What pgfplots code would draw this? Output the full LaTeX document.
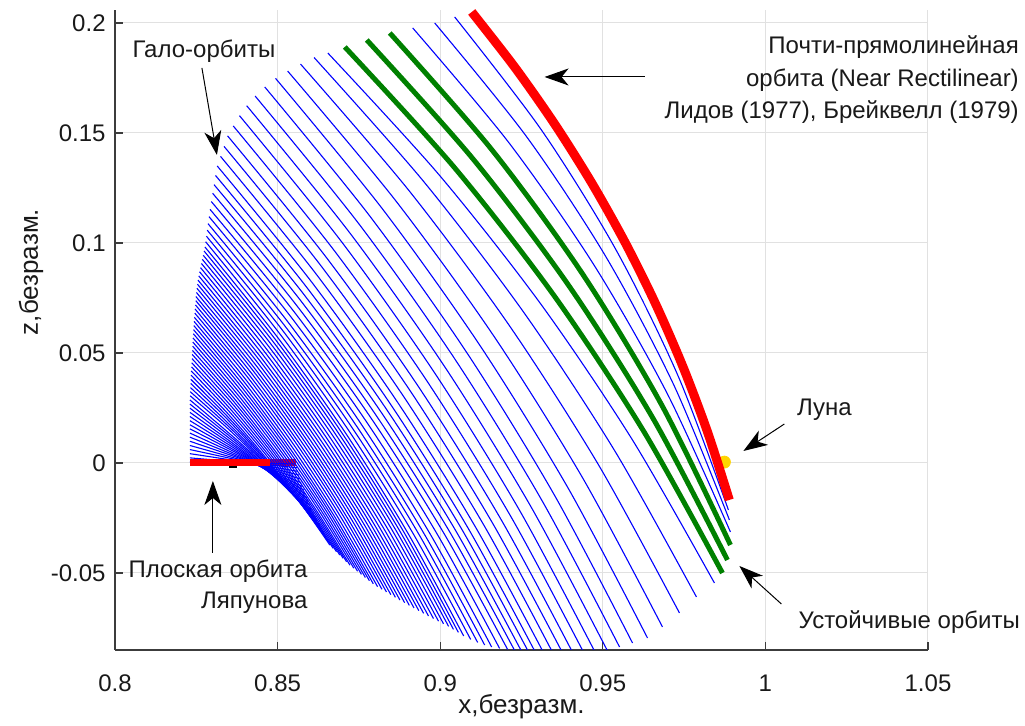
\documentclass[border=0pt]{standalone}
\usepackage{pgfplots}
\pgfplotsset{compat=1.18}
\usepackage{fontspec}
\setmainfont{Liberation Sans}
\usetikzlibrary{arrows.meta}
\definecolor{mblue}{RGB}{0,0,255}
\definecolor{mgreen}{RGB}{0,128,0}
\definecolor{mred}{RGB}{255,0,0}
\definecolor{moon}{RGB}{255,212,0}
\definecolor{gridc}{RGB}{225,225,225}
\definecolor{spinec}{RGB}{60,60,60}
\definecolor{txtc}{RGB}{25,25,25}
\tikzset{arr/.style={draw=black, line width=0.5pt, -{Stealth[length=12pt,width=8.5pt,inset=3.5pt]}}}
\pgfplotsset{bl/.style={mblue, line width=0.55pt, smooth, mark=none}}
\begin{document}
\begin{tikzpicture}
\begin{axis}[
  scale only axis, width=406.5pt, height=320pt,
  xmin=0.8, xmax=1.05, ymin=-0.085, ymax=0.2059,
  axis x line*=bottom, axis y line*=left,
  axis line style={draw=spinec, line width=0.6pt},
  xtick={0.8,0.85,0.9,0.95,1,1.05},
  xticklabels={0.8,0.85,0.9,0.95,1,1.05},
  ytick={-0.05,0,0.05,0.1,0.15,0.2},
  yticklabels={-0.05,0,0.05,0.1,0.15,0.2},
  scaled ticks=false,
  tick align=inside,
  major tick length=4pt,
  tick style={draw=spinec, line width=0.6pt},
  grid=major,
  major grid style={draw=gridc, line width=0.5pt},
  xticklabel style={anchor=base, yshift=-21pt, font=\fontsize{12}{14}\selectfont, text=txtc},
  yticklabel style={anchor=east, inner sep=0pt, xshift=-4.5pt, font=\fontsize{12}{14}\selectfont, text=txtc},
  clip mode=individual,
]
\coordinate (sw) at (rel axis cs:0,0);
% Lyapunov planar orbit (under the blue family)
\addplot[mred, line width=3.5pt, mark=none] coordinates {(0.8230,0) (0.8556,0)};
% halo family
\addplot[bl] coordinates {(0.82304,0.00045) (0.83932,0) (0.85561,-0.00045)};
\addplot[bl] coordinates {(0.82304,0.00232) (0.83948,0.00023) (0.85591,-0.00214)};
\addplot[bl] coordinates {(0.82304,0.00423) (0.83966,0.00045) (0.85625,-0.00382)};
\addplot[bl] coordinates {(0.82304,0.00609) (0.83988,0.00064) (0.85659,-0.0055)};
\addplot[bl] coordinates {(0.82304,0.00795) (0.84006,0.00082) (0.8569,-0.00723)};
\addplot[bl] coordinates {(0.82304,0.00986) (0.84028,0.00105) (0.85724,-0.00895)};
\addplot[bl] coordinates {(0.82304,0.01173) (0.84054,0.00118) (0.85763,-0.01068)};
\addplot[bl] coordinates {(0.82304,0.01359) (0.84083,0.00136) (0.8581,-0.01236)};
\addplot[bl] coordinates {(0.82304,0.0155) (0.84114,0.00155) (0.85856,-0.01409)};
\addplot[bl] coordinates {(0.82304,0.01736) (0.84141,0.00168) (0.85902,-0.01586)};
\addplot[bl] coordinates {(0.82304,0.01923) (0.84175,0.00182) (0.85951,-0.01759)};
\addplot[bl] coordinates {(0.82304,0.02114) (0.84206,0.00195) (0.86,-0.01936)};
\addplot[bl] coordinates {(0.82304,0.023) (0.84237,0.00205) (0.86046,-0.02118)};
\addplot[bl] coordinates {(0.82304,0.02491) (0.84273,0.00223) (0.86104,-0.02291)};
\addplot[bl] coordinates {(0.82304,0.02677) (0.84313,0.00236) (0.86166,-0.02464)};
\addplot[bl] coordinates {(0.82304,0.02864) (0.8435,0.00245) (0.86227,-0.02641)};
\addplot[bl] coordinates {(0.8231,0.03055) (0.83375,0.01693) (0.84393,0.00259) (0.85364,-0.01245) (0.86289,-0.02818)};
\addplot[bl] coordinates {(0.82313,0.03241) (0.834,0.01791) (0.84436,0.00268) (0.8542,-0.01328) (0.86353,-0.02995)};
\addplot[bl] coordinates {(0.8232,0.03427) (0.83425,0.01887) (0.84476,0.00273) (0.85473,-0.01415) (0.86415,-0.03177)};
\addplot[bl] coordinates {(0.82326,0.03618) (0.83453,0.01988) (0.84522,0.00282) (0.85531,-0.015) (0.86479,-0.03359)};
\addplot[bl] coordinates {(0.82329,0.03805) (0.83477,0.02085) (0.84562,0.00286) (0.85584,-0.01591) (0.86544,-0.03545)};
\addplot[bl] coordinates {(0.82338,0.03991) (0.83507,0.02182) (0.84608,0.00291) (0.85642,-0.01681) (0.86608,-0.03732)};
\addplot[bl] coordinates {(0.82344,0.04182) (0.83543,0.02292) (0.8467,0.00318) (0.85726,-0.0174) (0.8671,-0.03882)};
\addplot[bl] coordinates {(0.82353,0.04368) (0.83579,0.02398) (0.84731,0.00341) (0.85808,-0.01802) (0.86811,-0.04032)};
\addplot[bl] coordinates {(0.82359,0.04555) (0.83615,0.02507) (0.84793,0.00368) (0.85892,-0.01861) (0.86912,-0.04182)};
\addplot[bl] coordinates {(0.82366,0.04745) (0.83653,0.02615) (0.84857,0.00391) (0.85978,-0.01926) (0.87017,-0.04336)};
\addplot[bl] coordinates {(0.82375,0.04932) (0.83692,0.02718) (0.84922,0.00409) (0.86065,-0.01994) (0.87121,-0.04491)};
\addplot[bl] coordinates {(0.82381,0.05118) (0.83727,0.02824) (0.84983,0.00432) (0.86149,-0.02058) (0.87226,-0.04645)};
\addplot[bl] coordinates {(0.82387,0.05309) (0.83768,0.02937) (0.85054,0.00464) (0.86245,-0.02109) (0.87343,-0.04782)};
\addplot[bl] coordinates {(0.82393,0.05495) (0.83806,0.03047) (0.85121,0.00495) (0.86339,-0.02162) (0.87459,-0.04923)};
\addplot[bl] coordinates {(0.82399,0.05682) (0.83847,0.03156) (0.85192,0.00523) (0.86436,-0.02217) (0.87579,-0.05064)};
\addplot[bl] coordinates {(0.82409,0.05873) (0.83888,0.03269) (0.85263,0.00555) (0.86534,-0.0227) (0.87699,-0.05205)};
\addplot[bl] coordinates {(0.82415,0.06059) (0.8393,0.03378) (0.85336,0.00582) (0.86633,-0.02328) (0.87822,-0.0535)};
\addplot[bl] coordinates {(0.82424,0.06245) (0.83971,0.03486) (0.85407,0.00609) (0.86731,-0.02384) (0.87942,-0.05491)};
\addplot[bl] coordinates {(0.8243,0.06436) (0.84015,0.03601) (0.85484,0.00645) (0.86837,-0.0243) (0.88074,-0.05623)};
\addplot[bl] coordinates {(0.82439,0.06623) (0.84061,0.03715) (0.85564,0.00686) (0.86947,-0.02466) (0.88209,-0.05741)};
\addplot[bl] coordinates {(0.82452,0.06814) (0.84111,0.03834) (0.85647,0.00727) (0.87059,-0.02506) (0.88347,-0.05864)};
\addplot[bl] coordinates {(0.82461,0.07) (0.84155,0.03947) (0.85724,0.00764) (0.87166,-0.02547) (0.88482,-0.05986)};
\addplot[bl] coordinates {(0.82473,0.07186) (0.84207,0.04059) (0.8581,0.008) (0.87282,-0.02589) (0.88624,-0.06109)};
\addplot[bl] coordinates {(0.82485,0.07377) (0.84256,0.04176) (0.85893,0.00841) (0.87395,-0.02628) (0.88762,-0.06232)};
\addplot[bl] coordinates {(0.82488,0.07564) (0.84298,0.04292) (0.85972,0.00882) (0.87508,-0.02665) (0.88906,-0.0635)};
\addplot[bl] coordinates {(0.82504,0.0775) (0.84351,0.04408) (0.86058,0.00923) (0.87624,-0.02704) (0.89051,-0.06473)};
\addplot[bl] coordinates {(0.82519,0.07941) (0.84404,0.04524) (0.86144,0.00964) (0.87741,-0.02741) (0.89195,-0.06591)};
\addplot[bl] coordinates {(0.82535,0.08127) (0.84458,0.04641) (0.86234,0.01005) (0.87862,-0.0278) (0.89343,-0.06714)};
\addplot[bl] coordinates {(0.8255,0.08314) (0.84512,0.04753) (0.86323,0.01041) (0.87983,-0.02822) (0.8949,-0.06836)};
\addplot[bl] coordinates {(0.82574,0.08505) (0.84573,0.04871) (0.86418,0.01082) (0.88107,-0.0286) (0.8964,-0.06955)};
\addplot[bl] coordinates {(0.82599,0.08691) (0.84635,0.04986) (0.86513,0.01123) (0.88232,-0.02897) (0.89794,-0.07073)};
\addplot[bl] coordinates {(0.8263,0.08877) (0.84701,0.051) (0.86611,0.01164) (0.8836,-0.02933) (0.89948,-0.07191)};
\addplot[bl] coordinates {(0.82657,0.09068) (0.84766,0.05221) (0.8671,0.01209) (0.88489,-0.02967) (0.90101,-0.07309)};
\addplot[bl] coordinates {(0.82685,0.09255) (0.84831,0.05337) (0.86808,0.0125) (0.88617,-0.03005) (0.90258,-0.07427)};
\addplot[bl] coordinates {(0.82713,0.09441) (0.84896,0.05448) (0.86906,0.01282) (0.88743,-0.03055) (0.90408,-0.07564)};
\addplot[bl] coordinates {(0.8274,0.09632) (0.84959,0.0556) (0.87002,0.01314) (0.88869,-0.03106) (0.90559,-0.077)};
\addplot[bl] coordinates {(0.82765,0.09818) (0.85024,0.05664) (0.87103,0.01332) (0.89002,-0.03178) (0.90722,-0.07864)};
\addplot[bl] coordinates {(0.82786,0.10055) (0.851,0.05808) (0.8723,0.0138) (0.89176,-0.0323) (0.90937,-0.08023)};
\addplot[bl] coordinates {(0.82811,0.10309) (0.85181,0.05973) (0.87361,0.0145) (0.89352,-0.0326) (0.91152,-0.08159)};
\addplot[bl] coordinates {(0.82836,0.10582) (0.8526,0.06158) (0.8749,0.01541) (0.89526,-0.03269) (0.91367,-0.08273)};
\addplot[bl] coordinates {(0.8286,0.10877) (0.85341,0.06365) (0.87622,0.01655) (0.89702,-0.03255) (0.91582,-0.08364)};
\addplot[bl] coordinates {(0.82891,0.11195) (0.85433,0.06596) (0.8777,0.01791) (0.89902,-0.03219) (0.91828,-0.08432)};
\addplot[bl] coordinates {(0.82922,0.11527) (0.85524,0.06841) (0.87917,0.01945) (0.901,-0.03161) (0.92074,-0.08477)};
\addplot[bl] coordinates {(0.82962,0.11882) (0.85616,0.07103) (0.88055,0.02109) (0.9028,-0.031) (0.92289,-0.08523)};
\addplot[bl] coordinates {(0.83002,0.12259) (0.85708,0.07383) (0.88194,0.02286) (0.90459,-0.03031) (0.92504,-0.08568)};
\addplot[bl] coordinates {(0.83045,0.1265) (0.85811,0.07656) (0.8835,0.02436) (0.90663,-0.0301) (0.9275,-0.08682)};
\addplot[bl] coordinates {(0.83091,0.13068) (0.85915,0.07946) (0.88507,0.02595) (0.90867,-0.02985) (0.92995,-0.08795)};
\addplot[bl] coordinates {(0.83143,0.135) (0.86031,0.08256) (0.88682,0.02777) (0.91095,-0.02937) (0.93272,-0.08886)};
\addplot[bl] coordinates {(0.83244,0.13936) (0.86192,0.08575) (0.88897,0.02973) (0.9136,-0.0287) (0.93579,-0.08955)};
\addplot[bl] coordinates {(0.83352,0.14391) (0.86358,0.08916) (0.89115,0.03195) (0.91624,-0.0277) (0.93886,-0.08977)};
\addplot[bl] coordinates {(0.83462,0.14868) (0.86526,0.09289) (0.89336,0.03459) (0.91892,-0.02622) (0.94194,-0.08955)};
\addplot[bl] coordinates {(0.83637,0.15318) (0.86742,0.09654) (0.89588,0.03736) (0.92174,-0.02437) (0.94501,-0.08864)};
\addplot[bl] coordinates {(0.83828,0.15786) (0.86971,0.10048) (0.89849,0.0405) (0.92462,-0.02208) (0.94808,-0.08727)};
\addplot[bl] coordinates {(0.84049,0.16241) (0.87229,0.10441) (0.90138,0.04377) (0.92777,-0.01952) (0.95146,-0.08545)};
\addplot[bl] coordinates {(0.8431,0.16677) (0.87525,0.1082) (0.90464,0.04695) (0.93127,-0.017) (0.95515,-0.08364)};
\addplot[bl] coordinates {(0.84605,0.17091) (0.87855,0.11185) (0.90823,0.05005) (0.93509,-0.01451) (0.95914,-0.08182)};
\addplot[bl] coordinates {(0.84937,0.17482) (0.88226,0.11545) (0.91229,0.05327) (0.93946,-0.01173) (0.96375,-0.07955)};
\addplot[bl] coordinates {(0.85309,0.17814) (0.88626,0.11932) (0.91653,0.05759) (0.9439,-0.00703) (0.96836,-0.07455)};
\addplot[bl] coordinates {(0.85705,0.18132) (0.89059,0.12346) (0.9212,0.06259) (0.94886,-0.00129) (0.97358,-0.06818)};
\addplot[bl] coordinates {(0.86123,0.18427) (0.89508,0.12765) (0.92596,0.06791) (0.95387,0.00505) (0.9788,-0.06091)};
\addplot[bl] coordinates {(0.86544,0.18636) (0.89966,0.13097) (0.93088,0.07236) (0.9591,0.01052) (0.98433,-0.05455)};
\addplot[bl] coordinates {(0.89155,0.19773) (0.92123,0.14537) (0.9474,0.08973) (0.97007,0.03082) (0.98925,-0.03136)};
\addplot[bl] coordinates {(0.89831,0.2) (0.92652,0.1484) (0.95103,0.09355) (0.97184,0.03544) (0.98894,-0.02591)};
\addplot[bl] coordinates {(0.90445,0.20273) (0.93114,0.15134) (0.95407,0.09686) (0.97323,0.0393) (0.98863,-0.02136)};
% Moon
\addplot[only marks, mark=*, mark size=3pt, draw=moon, fill=moon] coordinates {(0.9874,0.0004)};
% stable orbits
\addplot[mgreen, line width=2.5pt, smooth, mark=none] coordinates {(0.87066,0.18909) (0.90437,0.13429) (0.93496,0.07618) (0.96244,0.01475) (0.98679,-0.05)};
\addplot[mgreen, line width=2.5pt, smooth, mark=none] coordinates {(0.87742,0.19227) (0.91008,0.13822) (0.93945,0.08082) (0.96553,0.02005) (0.98833,-0.04409)};
\addplot[mgreen, line width=2.5pt, smooth, mark=none] coordinates {(0.88449,0.19545) (0.91587,0.14239) (0.94378,0.08591) (0.96824,0.02603) (0.98925,-0.03727)};
% NRHO
\addplot[mred, line width=4.5pt, smooth, mark=none] coordinates {(0.9097,0.2050) (0.92294,0.17987) (0.93522,0.15401) (0.94655,0.1274) (0.95693,0.10005) (0.96635,0.07195) (0.97482,0.04311) (0.98234,0.01352) (0.9889,-0.0168)};
% Lyapunov orbit, visible part
\addplot[mred, line width=3.5pt, mark=none] coordinates {(0.8230,0) (0.8477,0)};
\addplot[only marks, mark=-, mark size=2pt, black, line width=0.8pt] coordinates {(0.8362,-0.0018)};
% annotations
\node[font=\fontsize{12}{16}\selectfont, text=txtc] at (axis cs:0.82734,0.18727) {Гало-орбиты};
\draw[arr] (axis cs:0.82673,0.17955) -- (axis cs:0.83134,0.14);
\node[font=\fontsize{12}{16.25}\selectfont, text=txtc, align=right, anchor=east, inner sep=0pt] at (axis cs:1.07804,0.17409) {Почти-прямолинейная\\орбита (Near Rectilinear)\\Лидов (1977), Брейквелл (1979)};
\draw[arr] (axis cs:0.96283,0.17545) -- (axis cs:0.9321,0.17545);
\node[font=\fontsize{12}{16}\selectfont, text=txtc] at (axis cs:1.01813,0.02409) {Луна};
\draw[arr] (axis cs:1.00584,0.01773) -- (axis cs:0.99324,0.00545);
\node[font=\fontsize{12}{16}\selectfont, text=txtc, anchor=east, inner sep=0pt] at (axis cs:1.07834,-0.07227) {Устойчивые орбиты};
\draw[arr] (axis cs:1.00492,-0.06409) -- (axis cs:0.99201,-0.04682);
\node[font=\fontsize{12}{15.5}\selectfont, text=txtc, align=right, anchor=east, inner sep=0pt] at (axis cs:0.85929,-0.05614) {Плоская орбита\\Ляпунова};
\draw[arr] (axis cs:0.8301,-0.04091) -- (axis cs:0.8301,-0.00818);
\end{axis}
\path (sw) ++(203.25pt,-32pt) node[anchor=base, font=\fontsize{13}{15}\selectfont, text=txtc] {x,безразм.};
\path (sw) ++(-38.5pt,189pt) node[rotate=90, anchor=base, font=\fontsize{13}{15}\selectfont, text=txtc] {z,безразм.};
\pgfresetboundingbox
\path (sw) ++(-57.5pt,-38pt) rectangle ++(512.5pt,363pt);
\end{tikzpicture}
\end{document}
